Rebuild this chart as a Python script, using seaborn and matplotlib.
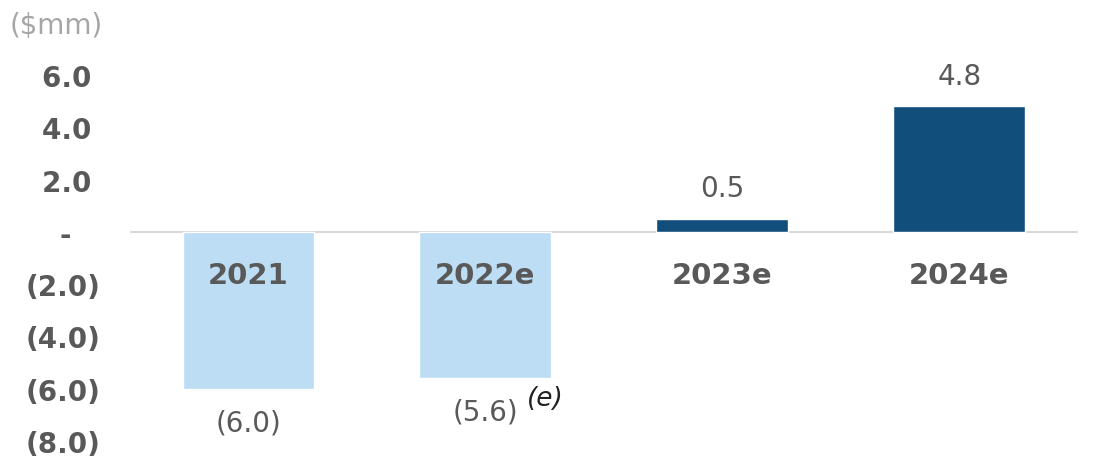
import matplotlib
matplotlib.use("Agg")
import matplotlib.pyplot as plt
import seaborn as sns

years = ["2021", "2022e", "2023e", "2024e"]
values = [-6.0, -5.6, 0.5, 4.8]
value_labels = ["(6.0)", "(5.6)", "0.5", "4.8"]
bar_colors = ["#BDDDF4", "#BDDDF4", "#124E7C", "#124E7C"]
yticks = [-8, -6, -4, -2, 0, 2, 4, 6]
# trailing spaces line positives up with the bracketed negatives
ytick_labels = ["(8.0)", "(6.0)", "(4.0)", "(2.0)", "-   ", "2.0 ", "4.0 ", "6.0 "]

sns.set_style("white")
plt.rcParams["font.family"] = ["DejaVu Sans"]

grey = "#595959"

fig = plt.figure(figsize=(11.02, 4.64), dpi=100)
ax = fig.add_axes([0.118, 0.0474, 0.860, 0.8168])

sns.barplot(x=years, y=values, hue=years, palette=bar_colors, legend=False,
            width=0.557, saturation=1, ax=ax)

ax.axhline(0, color="#D9D9D9", lw=1.5, zorder=0)
ax.set_xlim(-0.5, 3.5)
ax.set_ylim(-8, 6.5)
ax.set_yticks(yticks)
ax.set_yticklabels(ytick_labels, fontsize=20, fontweight="bold", color=grey)
ax.tick_params(axis="y", length=0, pad=21)
ax.set_xticks([])
ax.set_xlabel("")
ax.set_ylabel("")
for s in ax.spines.values():
    s.set_visible(False)

# category names inside the plot, just under the zero line
for i, yr in enumerate(years):
    ax.text(i, -1.65, yr, ha="center", va="center", fontsize=21,
            fontweight="bold", color=grey)

# value labels
for i, (v, lab) in enumerate(zip(values, value_labels)):
    off = 22 if v > 0 else -24
    ax.annotate(lab, (i, v), xytext=(0, off), textcoords="offset points",
                ha="center", va="center", fontsize=20, color=grey)

ax.annotate("(e)", (1, values[1]), xytext=(43, -14), textcoords="offset points",
            ha="center", va="center", fontsize=19, style="italic", color="#222222")

fig.text(0.009, 0.945, "($mm)", fontsize=20, color="#A6A6A6", ha="left", va="center")

fig.savefig("out.png", dpi=100)
